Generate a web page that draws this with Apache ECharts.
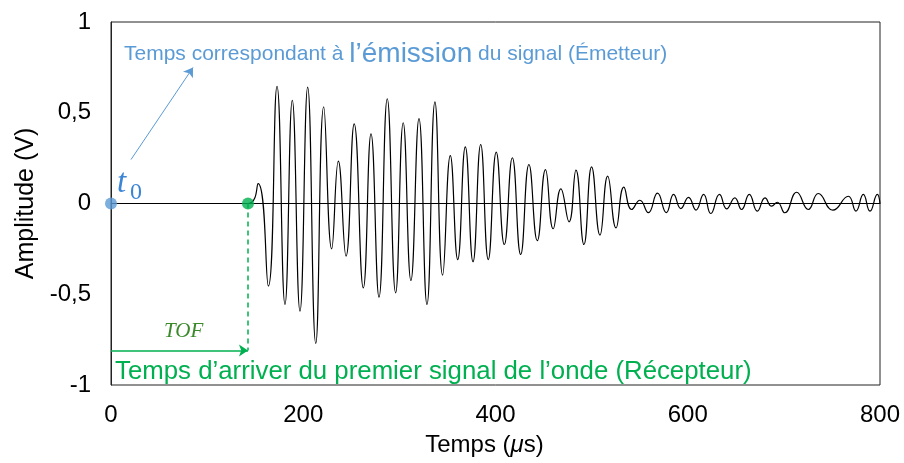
<!DOCTYPE html>
<html>
<head>
<meta charset="utf-8">
<script src="https://cdn.jsdelivr.net/npm/echarts@6/dist/echarts.min.js"></script>
<style>
  html, body { margin: 0; padding: 0; background: #fff; }
  #chart { width: 904px; height: 463px; }
</style>
</head>
<body>
<div id="chart"></div>
<script>
// signal extrema (time in µs, amplitude in V)
var signalTime = [0, 142.5, 153, 163.7, 172.7, 181, 188.6, 196.6, 204.6, 213, 221.3, 229.6, 236.5, 244.5,
  253, 262.5, 270.5, 278.8, 287.4, 296.1, 304, 312, 320.4, 328.7, 337, 345, 353, 360.7, 368.6, 376.6,
  384.6, 392.5, 400.8, 409.2, 417.5, 426.2, 434.8, 443.5, 452, 460, 468, 476.5, 483.7, 492, 500, 508.7,
  516.7, 525.4, 533.5, 541.7, 550.2, 559, 568.5, 577.7, 585.3, 592.8, 600.8, 608.6, 616.5, 624, 633,
  640.5, 649, 656, 664, 672.4, 680.4, 687.3, 693.2, 701, 713.3, 725.4, 735.8, 751, 767, 775, 782.6,
  789.6, 797.2, 800];
var signalAmp = [0, 0, 0.11, -0.455, 0.646, -0.556, 0.569, -0.593, 0.641, -0.771, 0.533, -0.25, 0.233, -0.29,
  0.439, -0.465, 0.384, -0.516, 0.577, -0.492, 0.445, -0.424, 0.468, -0.556, 0.56, -0.395, 0.264, -0.309, 0.312, -0.321,
  0.325, -0.309, 0.283, -0.226, 0.252, -0.281, 0.215, -0.205, 0.187, -0.139, 0.081, -0.101, 0.184, -0.226, 0.202, -0.174,
  0.151, -0.134, 0.09, -0.033, 0.018, -0.05, 0.057, -0.05, 0.05, -0.028, 0.034, -0.036, 0.05, -0.055, 0.05,
  -0.03, 0.031, -0.033, 0.05, -0.042, 0.031, -0.015, 0.007, -0.051, 0.062, -0.033, 0.055, -0.037, 0.04, -0.042, 0.05,
  -0.042, 0.05, 0];

var emitterPoint = [0, 0];      // t0
var receiverPoint = [142.5, 0]; // first arrival
var tofLevel = -0.81;

var xTicks = [0, 200, 400, 600, 800];
var yTicks = [-1, -0.5, 0, 0.5, 1];

var blue = '#5B9BD5', green = '#00B050';

var signal = [];
for (var i = 0; i < signalTime.length; i++) signal.push([signalTime[i], signalAmp[i]]);

var chart = echarts.init(document.getElementById('chart'));
var option = {
  animation: false,
  backgroundColor: '#fff',
  textStyle: { fontFamily: 'Liberation Sans, Arial, sans-serif' },
  grid: { left: 111, right: 24, top: 22, bottom: 78, show: true, borderColor: '#222', borderWidth: 1 },
  xAxis: {
    type: 'value', min: xTicks[0], max: xTicks[xTicks.length - 1], interval: 200,
    name: 'Temps ({i|μ}s)', nameLocation: 'middle', nameGap: 48,
    nameTextStyle: { fontSize: 24, color: '#000', padding: [0, 22, 0, 0],
      rich: { i: { fontSize: 24, fontStyle: 'italic', color: '#000' } } },
    axisLine: { lineStyle: { color: '#222' } },
    axisTick: { show: false },
    splitLine: { show: false },
    axisLabel: { fontSize: 24, color: '#000', margin: 18 }
  },
  yAxis: {
    type: 'value', min: yTicks[0], max: yTicks[yTicks.length - 1], interval: 0.5,
    name: 'Amplitude (V)', nameLocation: 'middle', nameGap: 66,
    nameTextStyle: { fontSize: 25, color: '#000' },
    axisLine: { show: true, lineStyle: { color: '#222' } },
    axisTick: { show: false },
    splitLine: { show: false },
    axisLabel: { fontSize: 24, color: '#000', margin: 20,
      formatter: function (v) { return String(v).replace('.', ','); } }
  },
  series: [
    {
      type: 'line', data: signal, smooth: 0.5, showSymbol: false, symbol: 'none',
      lineStyle: { color: '#000', width: 1.2 }, z: 3,
      markLine: {
        silent: true, symbol: 'none', label: { show: false },
        lineStyle: { color: '#000', width: 1, type: 'solid' },
        data: [{ yAxis: 0 }]
      }
    },
    {
      // arrows: emission pointer and TOF span
      type: 'line', data: [], z: 4,
      markLine: {
        silent: true, label: { show: false }, symbol: ['none', 'arrow'], symbolSize: 9,
        data: [
          [{ coord: [20.8, 0.242], lineStyle: { color: blue, width: 1, type: 'solid' } },
           { coord: [85.3, 0.749] }],
          [{ coord: [0, tofLevel], lineStyle: { color: green, width: 1.5, type: 'solid' } },
           { coord: [receiverPoint[0], tofLevel] }]
        ]
      }
    },
    {
      type: 'line', data: [], z: 4,
      markLine: {
        silent: true, label: { show: false }, symbol: 'none',
        lineStyle: { color: green, width: 1.5, type: [5, 4] },
        data: [[{ coord: [receiverPoint[0], 0] }, { coord: [receiverPoint[0], tofLevel] }]]
      }
    },
    {
      type: 'scatter', data: [emitterPoint], symbolSize: 12, clip: false, z: 5,
      itemStyle: { color: blue }
    },
    {
      type: 'scatter', data: [receiverPoint], symbolSize: 12, clip: false, z: 5,
      itemStyle: { color: green }
    }
  ],
  graphic: [
    {
      type: 'text', left: 124, top: 40, z: 10,
      style: {
        text: '{a|Temps correspondant à }{b|l’émission}{a| du signal (Émetteur)}',
        rich: {
          a: { fontSize: 21, fill: blue, fontFamily: 'Liberation Sans' },
          b: { fontSize: 28, fill: blue, fontFamily: 'Liberation Sans' }
        }
      }
    },
    { type: 'text', left: 117, top: 167, z: 10,
      style: { text: 't', fontSize: 33, fontStyle: 'italic', fontFamily: 'Liberation Serif', fill: '#3C84D6' } },
    { type: 'text', left: 130, top: 181, z: 10,
      style: { text: '0', fontSize: 24, fontFamily: 'Liberation Serif', fill: '#3C84D6' } },
    { type: 'text', left: 164, top: 321, z: 10,
      style: { text: 'TOF', fontSize: 21, fontStyle: 'italic', fontFamily: 'Liberation Serif', fill: '#3A8A2A' } },
    { type: 'text', left: 115, top: 359, z: 10,
      style: { text: 'Temps d’arriver du premier signal de l’onde (Récepteur)', fontSize: 25.8,
        fontFamily: 'Liberation Sans', fill: green } }
  ]
};
chart.setOption(option);
</script>
</body>
</html>
